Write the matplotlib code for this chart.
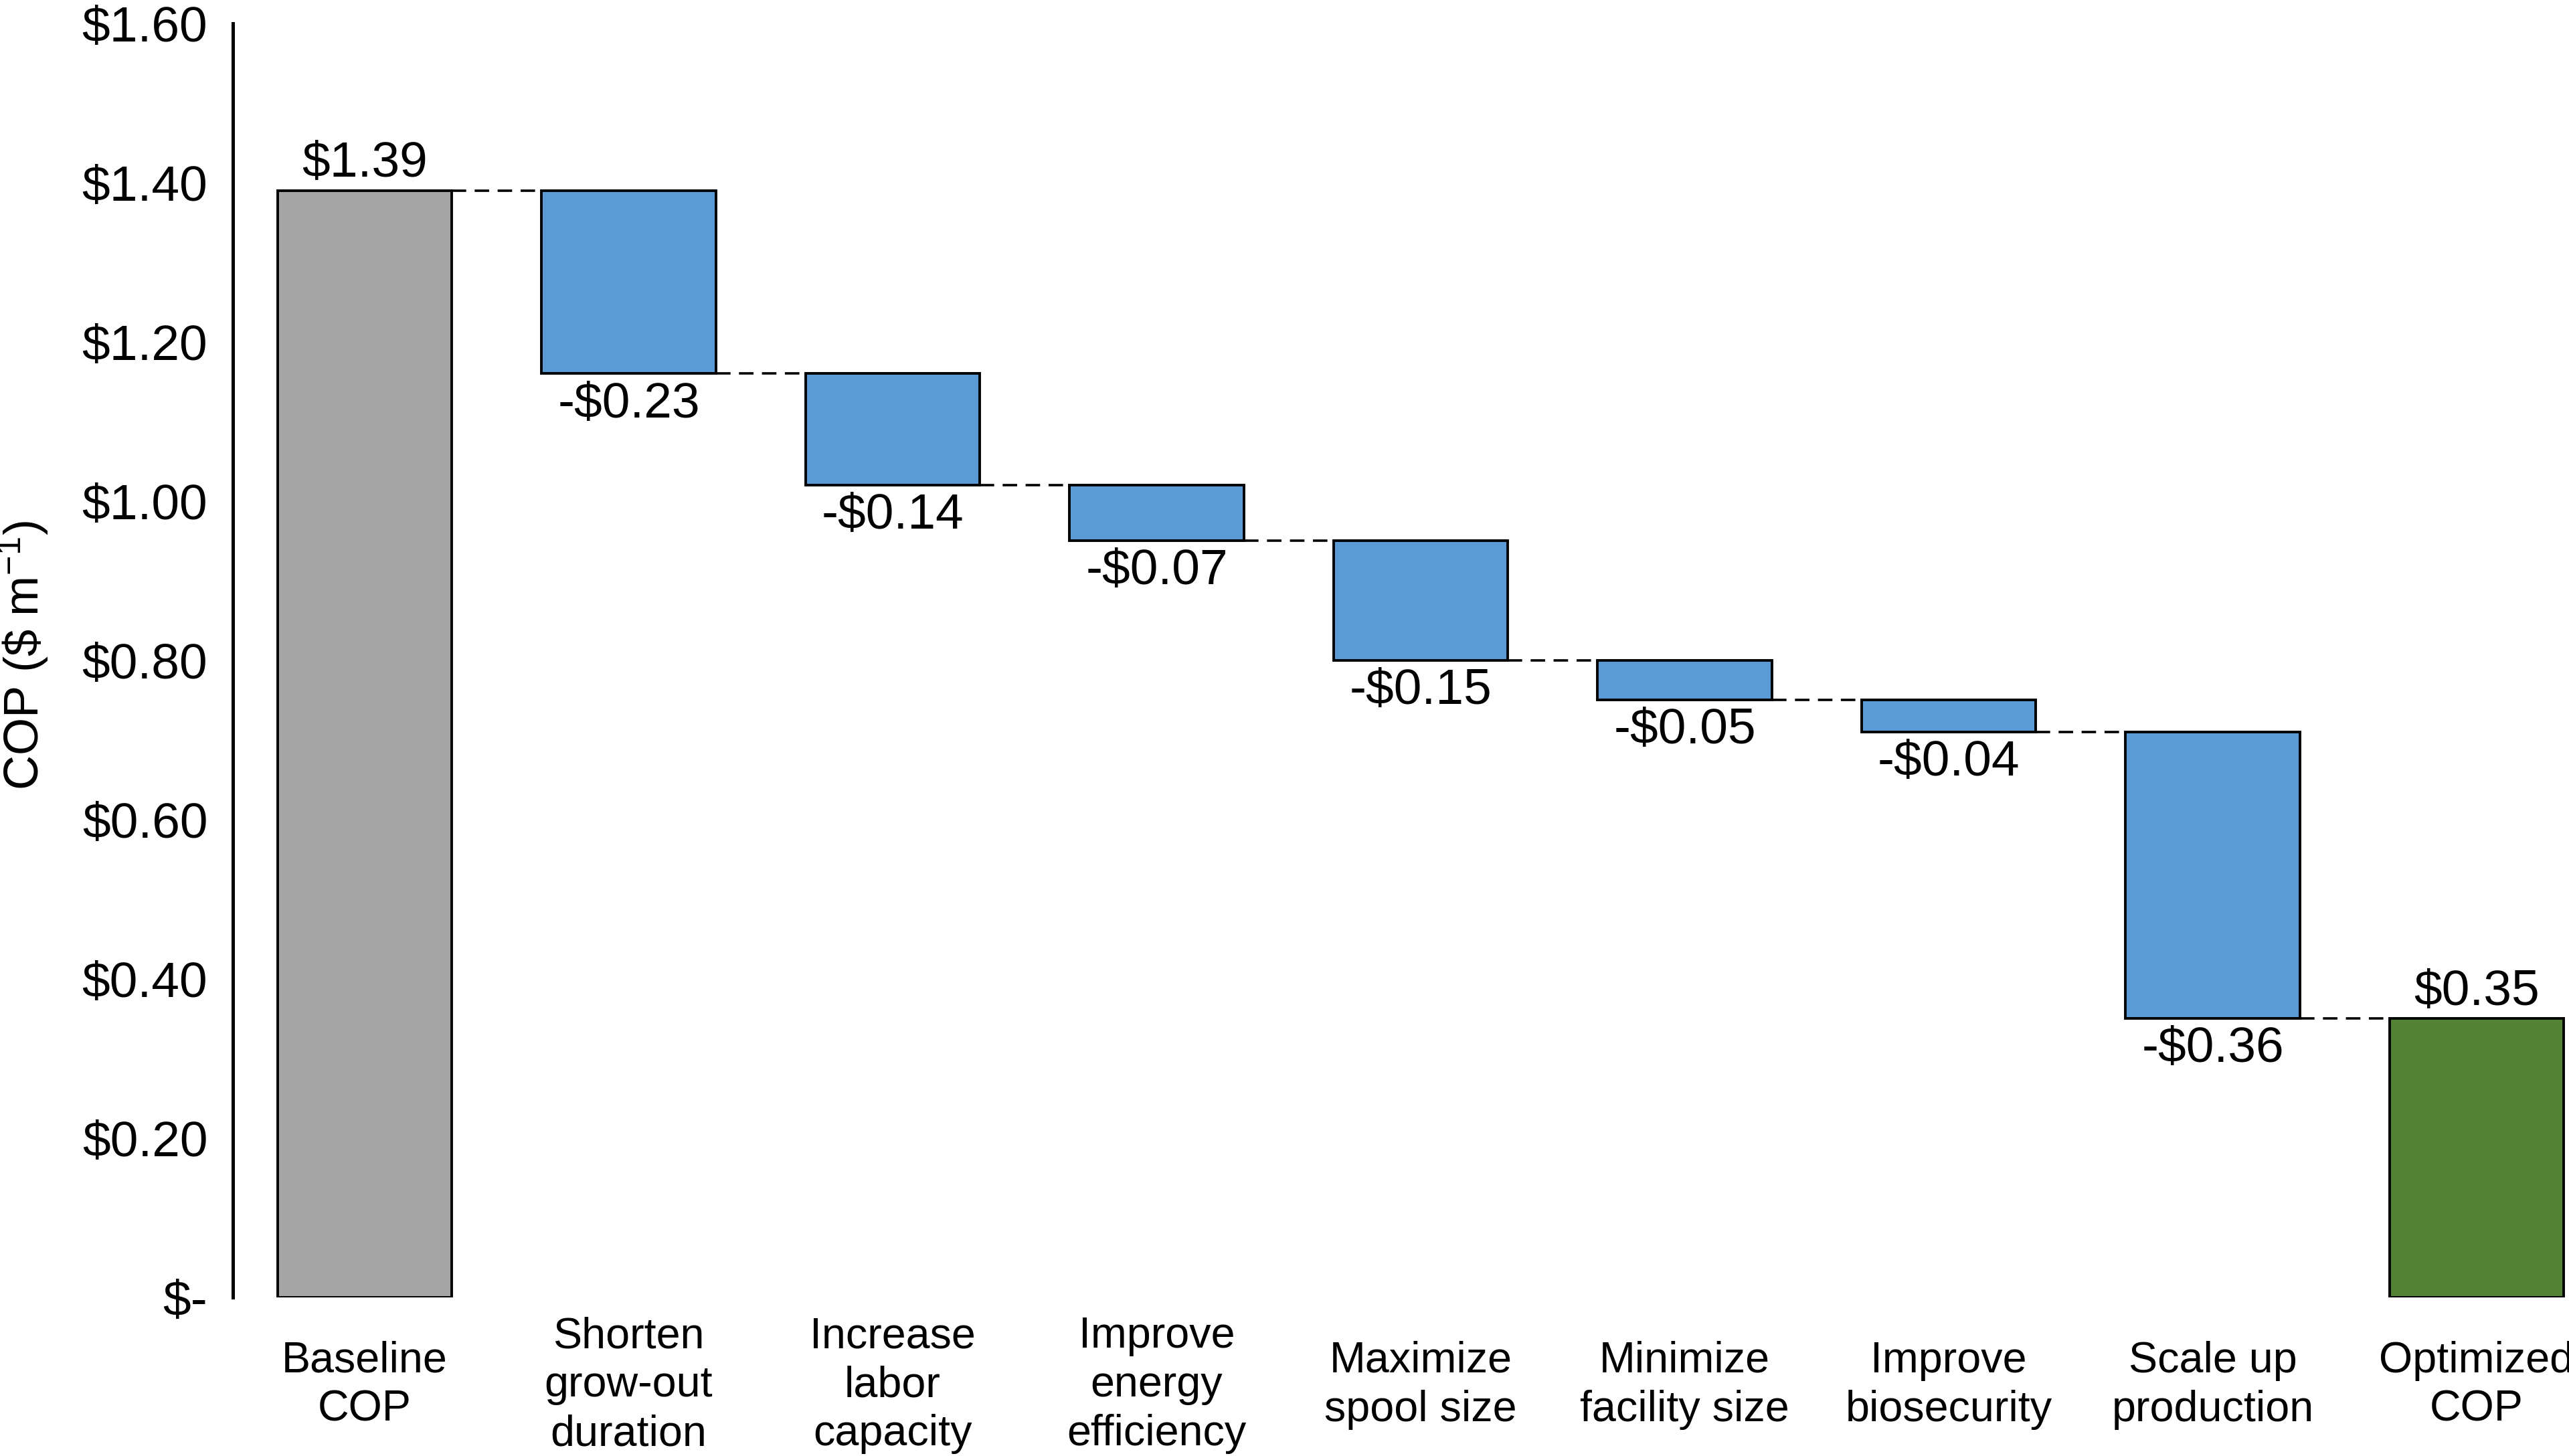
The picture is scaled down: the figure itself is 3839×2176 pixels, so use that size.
import numpy as np
import matplotlib
matplotlib.use('Agg')
import matplotlib.pyplot as plt
import matplotlib.transforms as mtransforms

plt.rcParams['font.family'] = ['Liberation Sans', 'DejaVu Sans']
plt.rcParams['mathtext.fontset'] = 'custom'
plt.rcParams['mathtext.rm'] = 'Liberation Sans'
plt.rcParams['mathtext.it'] = 'Liberation Sans'

# datos del grafico de cascada
categorias = ['Baseline\nCOP', 'Shorten\ngrow-out\nduration', 'Increase\nlabor\ncapacity',
              'Improve\nenergy\nefficiency', 'Maximize\nspool size', 'Minimize\nfacility size',
              'Improve\nbiosecurity', 'Scale up\nproduction', 'Optimized\nCOP']
baseline = 1.39
cambios = [-0.23, -0.14, -0.07, -0.15, -0.05, -0.04, -0.36]
optimizado = 0.35
yticks = [0, 0.2, 0.4, 0.6, 0.8, 1.0, 1.2, 1.4, 1.6]

gris = '#A5A5A5'
azul = '#5B9BD5'
verde = '#548235'

fig = plt.figure(figsize=(38.39, 21.76), dpi=100)
ax = fig.add_axes([0.0906, 0.109, 0.9094, 0.875])

ancho = 0.66
x = np.arange(len(categorias))
fs = 54

# barra inicial
ax.bar(x[0], baseline, width=ancho, color=gris, edgecolor='black', linewidth=2.8)
ax.annotate(f'${baseline:.2f}', (x[0], baseline), xytext=(0, 4), textcoords='offset points',
            ha='center', va='bottom', fontsize=fs)

nivel = baseline
niveles = [baseline]
for i, c in enumerate(cambios):
    nuevo = round(nivel + c, 2)
    ax.bar(x[i + 1], nivel - nuevo, bottom=nuevo, width=ancho, color=azul,
           edgecolor='black', linewidth=2.8)
    ax.annotate(f'-${abs(c):.2f}', (x[i + 1], nuevo), xytext=(0, -8), textcoords='offset points',
                ha='center', va='top', fontsize=fs)
    nivel = nuevo
    niveles.append(nivel)

# barra final
ax.bar(x[-1], optimizado, width=ancho, color=verde, edgecolor='black', linewidth=2.8)
ax.annotate(f'${optimizado:.2f}', (x[-1], optimizado), xytext=(0, 4), textcoords='offset points',
            ha='center', va='bottom', fontsize=fs)
niveles.append(optimizado)

# lineas de conexion
for i in range(len(categorias) - 1):
    ax.plot([x[i] + ancho / 2, x[i + 1] - ancho / 2], [niveles[i], niveles[i]],
            color='black', linewidth=2.6, dashes=(6, 3.5))

ax.set_xlim(-0.5, 8.35)
ax.set_ylim(0, 1.6)
ax.set_yticks(yticks)
ax.set_yticklabels(['$-' if v == 0 else f'${v:.2f}' for v in yticks], fontsize=fs)
ax.tick_params(axis='y', length=0, pad=27)
ax.set_xticks([])

for s in ['top', 'right', 'bottom']:
    ax.spines[s].set_visible(False)
ax.spines['left'].set_linewidth(3.6)

trans = mtransforms.blended_transform_factory(ax.transData, ax.transAxes)
for xi, lab in zip(x, categorias):
    ax.text(xi, -0.069, lab, transform=trans, ha='center', va='center',
            fontsize=46.5, linespacing=1.28, multialignment='center')

fig.text(0.009, 0.55, r'COP (\$ m$^{-1}$)', rotation=90, ha='center', va='center', fontsize=52)

fig.savefig('out.png', dpi=100)
